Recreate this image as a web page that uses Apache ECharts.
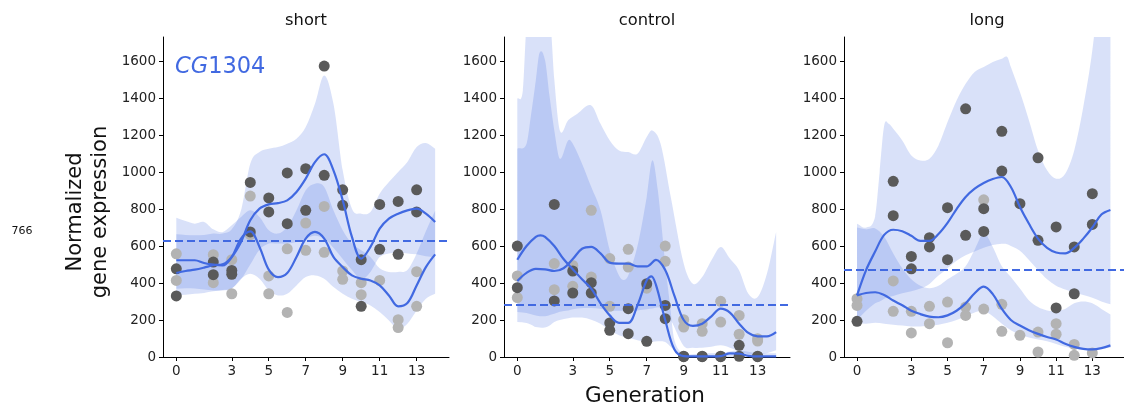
<!DOCTYPE html>
<html>
<head>
<meta charset="utf-8">
<script src="https://cdn.jsdelivr.net/npm/echarts@6/dist/echarts.min.js"></script>
<style>
  html, body { margin: 0; padding: 0; background: #ffffff; }
  #chart { width: 1124px; height: 409px; }
</style>
</head>
<body>
<div id="chart"></div>
<script>
// ---- Expression of CG1304 across generations, three selection regimes ----
const panelTitles = ['short', 'control', 'long'];
const geneName = 'CG1304';
const xTickValues = [0, 3, 5, 7, 9, 11, 13];
const yTickValues = [0, 200, 400, 600, 800, 1000, 1200, 1400, 1600];
// mean expression level of each regime (dashed reference)
const baselines = [631, 283, 474];

// replicate measurements: [generation, expression]
const shortDark = [[0,477],[0,330],[2,513],[2,445],[3,468],[3,447],[4,944],[4,676],[5,860],[5,784],[6,995],[6,721],[7,1018],[7,793],[8,1573],[8,982],[9,904],[9,820],[10,526],[10,274],[11,825],[11,582],[12,841],[12,555],[13,904],[13,784]];
const shortLight = [[0,558],[0,414],[2,553],[2,402],[3,526],[3,342],[4,870],[4,661],[5,438],[5,342],[6,585],[6,241],[7,724],[7,577],[8,814],[8,566],[9,465],[9,420],[10,402],[10,337],[11,414],[12,202],[12,159],[13,461],[13,274]];
const controlDark = [[0,600],[0,375],[2,825],[2,303],[3,465],[3,346],[4,402],[4,346],[5,184],[5,144],[6,261],[6,126],[7,396],[7,85],[8,279],[8,207],[9,2],[9,4],[10,2],[10,4],[11,2],[11,4],[12,63],[12,4],[13,2],[13,4]];
const controlLight = [[0,438],[0,321],[2,505],[2,364],[3,495],[3,382],[4,793],[4,432],[5,532],[5,274],[6,582],[6,486],[7,372],[8,600],[8,517],[9,202],[9,162],[10,180],[10,139],[11,301],[11,189],[12,225],[12,123],[13,99],[13,86]];
const longDark = [[0,193],[2,950],[2,764],[3,544],[3,477],[4,645],[4,595],[5,807],[5,526],[6,1342],[6,658],[7,802],[7,679],[8,1220],[8,1005],[9,829],[10,1077],[10,631],[11,703],[11,265],[12,595],[12,342],[13,883],[13,717]];
const longLight = [[0,315],[0,279],[2,411],[2,247],[3,247],[3,130],[4,274],[4,180],[5,297],[5,77],[6,270],[6,225],[7,850],[7,259],[8,285],[8,139],[9,117],[10,135],[10,27],[11,180],[11,123],[12,68],[12,9],[13,22]];

// fitted trends: [generation, expression]
const shortDarkFit = [[0,454],[0.5,465],[1,472],[1.5,483],[2,496],[2.5,501],[3,541],[3.5,622],[4,739],[4.5,802],[5,825],[5.5,832],[6,847],[6.5,892],[7,964],[7.5,1054],[8,1096],[8.5,1009],[9,847],[9.5,649],[10,532],[10.5,595],[11,694],[11.5,748],[12,775],[12.5,793],[13,802],[13.5,775],[14,730]];
const shortLightFit = [[0,523],[0.5,523],[1,523],[1.5,508],[2,499],[2.5,495],[3,541],[3.5,640],[4,679],[4.5,595],[5,472],[5.5,432],[6,454],[6.5,541],[7,640],[7.5,676],[8,640],[8.5,541],[9,486],[9.5,441],[10,423],[10.5,414],[11,387],[11.5,333],[12,274],[12.5,292],[13,387],[13.5,486],[14,555]];
const controlDarkFit = [[0,526],[0.5,600],[1,650],[1.25,658],[1.5,650],[2,600],[2.5,530],[3,475],[3.5,420],[4,370],[4.5,290],[5,225],[5.5,185],[6,185],[6.5,280],[7,415],[7.25,436],[7.5,390],[8,200],[8.5,40],[9,5],[10,3],[11,5],[11.5,20],[12,18],[12.5,6],[13,3],[14,3]];
const controlLightFit = [[0,411],[0.5,455],[1,476],[1.5,474],[2,465],[2.5,480],[3,530],[3.5,585],[4,595],[4.5,560],[5,510],[5.5,505],[6,505],[6.5,490],[7,490],[7.5,525],[8,470],[8.5,330],[9,200],[9.5,168],[10,180],[10.5,220],[11,261],[11.5,240],[12,180],[12.5,130],[13,112],[13.5,112],[14,135]];
const longDarkFit = [[0,333],[0.5,470],[1,570],[1.5,660],[2,688],[2.5,680],[3,655],[3.5,628],[4,628],[4.5,665],[5,725],[5.5,800],[6,865],[6.5,910],[7,941],[7.5,962],[8,973],[8.5,919],[9,811],[9.5,720],[10,640],[10.5,590],[11,565],[11.5,560],[12,590],[12.5,640],[13,700],[13.5,770],[14,795]];
const longLightFit = [[0,333],[0.5,346],[1,350],[1.5,335],[2,305],[2.5,280],[3,250],[3.5,232],[4,218],[4.5,215],[5,225],[5.5,250],[6,290],[6.5,345],[7,380],[7.5,340],[8,260],[8.5,200],[9,170],[9.5,145],[10,125],[10.5,108],[11,95],[11.5,72],[12,55],[12.5,44],[13,41],[13.5,48],[14,63]];

// credible bands: [generation, lower, upper]
const shortDarkBand = [[0,333,663],[0.5,336,660],[1,342,658],[1.5,346,660],[2,355,667],[2.5,362,667],[3,372,690],[3.5,420,793],[4,500,1045],[4.5,580,1108],[5,613,1126],[5.5,613,1135],[6,613,1153],[6.5,622,1180],[7,640,1243],[7.5,655,1369],[8,640,1522],[8.5,590,1369],[9,530,1009],[9.5,470,802],[10,420,775],[10.5,460,784],[11,540,883],[11.5,560,946],[12,565,1000],[12.5,560,1054],[13,555,1135],[13.5,545,1157],[14,540,1126]];
const shortLightBand = [[0,369,753],[0.5,372,735],[1,370,721],[1.5,365,730],[2,360,690],[2.5,360,675],[3,369,712],[3.5,423,757],[4,450,793],[4.5,423,757],[5,360,685],[5.5,333,667],[6,342,703],[6.5,387,793],[7,432,901],[7.5,441,937],[8,423,919],[8.5,378,793],[9,342,685],[9.5,315,613],[10,297,577],[10.5,279,541],[11,243,480],[11.5,198,460],[12,153,460],[12.5,180,470],[13,252,560],[13.5,315,680],[14,342,790]];
const controlDarkBand = [[0,189,1126],[0.5,184,1153],[0.75,175,1315],[1,162,1495],[1.2,160,1643],[1.5,159,1604],[1.75,170,1405],[2,189,1225],[2.3,200,1072],[2.75,210,1171],[3,213,1153],[3.5,213,1045],[4,202,919],[4.5,180,793],[5,144,577],[5.5,117,440],[5.75,110,416],[6,105,440],[6.5,90,600],[7,81,865],[7.3,83,1063],[7.6,85,901],[8,81,505],[8.25,60,288],[8.5,36,90],[9,0,20],[10,0,20],[11,0,22],[12,0,35],[13,0,20],[14,0,20]];
const controlLightBand = [[0,243,1396],[0.3,240,1441],[0.5,238,1800],[1,225,2100],[1.5,220,2000],[1.8,228,1800],[2,234,1500],[2.3,245,1225],[2.75,252,1280],[3.25,262,1315],[4,265,1360],[4.5,261,1261],[5,252,1171],[5.5,250,1117],[6,250,1108],[6.5,252,1099],[7,258,1189],[7.3,262,1225],[7.75,265,1153],[8.3,200,865],[9,60,505],[9.5,50,396],[10,50,432],[10.5,55,523],[11,63,595],[11.5,50,532],[12,30,468],[12.5,15,342],[13,10,324],[13.5,20,450],[14,36,676]];
const longDarkBand = [[0,200,721],[0.5,250,700],[1,290,760],[1.25,300,1000],[1.5,315,1252],[1.75,325,1261],[2,330,1234],[2.5,345,1171],[3,355,1090],[3.5,370,1063],[4,395,1072],[4.5,440,1144],[5,480,1270],[5.5,520,1387],[6,550,1477],[6.5,570,1541],[7,590,1568],[7.5,605,1595],[8,612,1613],[8.3,610,1622],[8.5,600,1568],[9,575,1432],[9.5,525,1279],[10,470,1117],[10.5,420,1009],[11,385,964],[11.5,365,991],[12,350,1117],[12.5,335,1351],[13,320,1658],[13.5,300,2100],[14,285,2400]];
const longLightBand = [[0,184,700],[0.5,180,690],[1,185,695],[1.5,180,650],[2,175,560],[2.5,170,480],[3,165,420],[3.5,165,385],[4,170,372],[4.5,175,385],[5,185,420],[5.5,200,450],[6,220,490],[6.5,240,580],[7,250,667],[7.5,220,595],[8,180,490],[8.5,145,432],[9,120,370],[9.5,105,306],[10,95,270],[10.5,85,252],[11,70,250],[11.5,55,260],[12,45,290],[12.5,40,300],[13,40,290],[13.5,45,260],[14,50,230]];

// ---- layout and style ----
const BLUE = '#4169e1';
const BAND_FILL = 'rgba(65,105,225,0.2)';
const DARK_DOT = '#5a5a5a';
const LIGHT_DOT = '#b3b3b3';
const FONT = 'DejaVu Sans';
const X_MIN = -0.72, X_MAX = 14.75, Y_MAX = 1730;
const GRID_TOP = 37, GRID_H = 320, GRID_W = 286;
const gridLefts = [163, 504, 844];

const panels = [
  { dark: shortDark, light: shortLight, darkFit: shortDarkFit, lightFit: shortLightFit, darkBand: shortDarkBand, lightBand: shortLightBand },
  { dark: controlDark, light: controlLight, darkFit: controlDarkFit, lightFit: controlLightFit, darkBand: controlDarkBand, lightBand: controlLightBand },
  { dark: longDark, light: longLight, darkFit: longDarkFit, lightFit: longLightFit, darkBand: longDarkBand, lightBand: longLightBand }
];

// Smooth pixel path through points (cubic Hermite, finite-difference tangents).
function hermitePath(pts, startCmd) {
  const n = pts.length;
  const slope = new Array(n);
  for (let k = 0; k < n; k++) {
    const a = pts[Math.max(0, k - 1)], b = pts[Math.min(n - 1, k + 1)];
    slope[k] = (b[1] - a[1]) / (b[0] - a[0]);
  }
  let d = startCmd + pts[0][0].toFixed(2) + ' ' + pts[0][1].toFixed(2);
  for (let k = 0; k < n - 1; k++) {
    const p = pts[k], q = pts[k + 1];
    const h = (q[0] - p[0]) / 3;
    d += ' C' + (p[0] + h).toFixed(2) + ' ' + (p[1] + slope[k] * h).toFixed(2) + ' ' +
         (q[0] - h).toFixed(2) + ' ' + (q[1] - slope[k + 1] * h).toFixed(2) + ' ' +
         q[0].toFixed(2) + ' ' + q[1].toFixed(2);
  }
  return d;
}

function bandSeries(i, band) {
  return {
    type: 'custom', coordinateSystem: 'cartesian2d', xAxisIndex: i, yAxisIndex: i,
    data: band, encode: { x: 0, y: [1, 2] }, clip: true, silent: true, z: 1,
    renderItem: function (params, api) {
      if (params.dataIndex !== 0) return null;
      const upper = band.map(b => api.coord([b[0], b[2]]));
      const lower = band.map(b => api.coord([b[0], b[1]])).reverse();
      // lower edge runs right-to-left: flip x for the tangent helper, then flip back
      const lowerFlipped = lower.map(p => [-p[0], p[1]]);
      let lowerPath = hermitePath(lowerFlipped, 'L');
      lowerPath = lowerPath.replace(/(-?\d+\.\d+) (-?\d+\.\d+)/g, (m, x, y) => (-parseFloat(x)).toFixed(2) + ' ' + y);
      const d = hermitePath(upper, 'M') + ' ' + lowerPath + ' Z';
      return { type: 'path', shape: { pathData: d }, style: { fill: BAND_FILL, stroke: null } };
    }
  };
}

const grids = [], xAxes = [], yAxes = [], series = [], graphics = [];
const axisLine = { show: true, onZero: false, lineStyle: { color: '#000', width: 1 } };
const tickStyle = { color: '#000', width: 1 };
const plainNumber = v => String(v);

panels.forEach((p, i) => {
  grids.push({ left: gridLefts[i], top: GRID_TOP, width: GRID_W, height: GRID_H, containLabel: false });
  xAxes.push({
    type: 'value', gridIndex: i, min: X_MIN, max: X_MAX,
    axisLine: axisLine,
    axisTick: { show: true, inside: false, length: 4, customValues: xTickValues, lineStyle: tickStyle },
    axisLabel: { customValues: xTickValues, formatter: plainNumber, margin: 7, fontSize: 13.5, color: '#222', fontFamily: FONT },
    splitLine: { show: false }
  });
  yAxes.push({
    type: 'value', gridIndex: i, min: 0, max: Y_MAX,
    axisLine: axisLine,
    axisTick: { show: true, inside: false, length: 4, customValues: yTickValues, lineStyle: tickStyle },
    axisLabel: { customValues: yTickValues, formatter: plainNumber, margin: 7, fontSize: 13.5, color: '#222', fontFamily: FONT },
    splitLine: { show: false }
  });

  // credible bands (translucent, overlap reads darker)
  series.push(bandSeries(i, p.darkBand));
  series.push(bandSeries(i, p.lightBand));

  // replicate points
  series.push({
    type: 'scatter', xAxisIndex: i, yAxisIndex: i, data: p.light, symbolSize: 11,
    itemStyle: { color: LIGHT_DOT, opacity: 1 }, silent: true, z: 2
  });
  series.push({
    type: 'scatter', xAxisIndex: i, yAxisIndex: i, data: p.dark, symbolSize: 11,
    itemStyle: { color: DARK_DOT, opacity: 1 }, silent: true, z: 2
  });

  // fitted trends and the regime mean
  series.push({
    type: 'line', xAxisIndex: i, yAxisIndex: i, data: p.lightFit, smooth: 0.35, symbol: 'none',
    lineStyle: { color: BLUE, width: 2.2 }, silent: true, z: 3
  });
  series.push({
    type: 'line', xAxisIndex: i, yAxisIndex: i, data: p.darkFit, smooth: 0.35, symbol: 'none',
    lineStyle: { color: BLUE, width: 2.2 }, silent: true, z: 3,
    markLine: {
      silent: true, symbol: 'none', label: { show: false },
      lineStyle: { color: BLUE, width: 1.8, type: [8, 4] },
      data: [{ yAxis: baselines[i] }]
    }
  });

  graphics.push({
    type: 'text', x: gridLefts[i] + GRID_W / 2, y: 21,
    style: { text: panelTitles[i], fill: '#111', font: '16.3px "DejaVu Sans"',
             align: 'center', verticalAlign: 'middle', textAlign: 'center', textVerticalAlign: 'middle' }
  });
});

graphics.push({
  type: 'text', x: 175, y: 67,
  style: {
    text: '{i|CG}{n|' + geneName.slice(2) + '}',
    fill: BLUE, verticalAlign: 'middle', textVerticalAlign: 'middle',
    rich: {
      i: { fontFamily: FONT, fontSize: 22.5, fontStyle: 'italic', fill: BLUE, color: BLUE },
      n: { fontFamily: FONT, fontSize: 22.5, fill: BLUE, color: BLUE }
    }
  }
});
graphics.push({
  type: 'text', x: 88, y: 212, rotation: Math.PI / 2,
  style: { text: 'Normalized\ngene expression', fill: '#111', font: '21px "DejaVu Sans"', lineHeight: 25,
           align: 'center', verticalAlign: 'middle', textAlign: 'center', textVerticalAlign: 'middle' }
});
graphics.push({
  type: 'text', x: 645, y: 396,
  style: { text: 'Generation', fill: '#111', font: '21.5px "DejaVu Sans"',
           align: 'center', verticalAlign: 'middle', textAlign: 'center', textVerticalAlign: 'middle' }
});
graphics.push({
  type: 'text', x: 22, y: 231,
  style: { text: '766', fill: '#111', font: '11px "DejaVu Sans"',
           align: 'center', verticalAlign: 'middle', textAlign: 'center', textVerticalAlign: 'middle' }
});

const chart = echarts.init(document.getElementById('chart'), null, { renderer: 'canvas' });
chart.setOption({
  animation: false,
  backgroundColor: '#ffffff',
  grid: grids,
  xAxis: xAxes,
  yAxis: yAxes,
  series: series,
  graphic: graphics
});
</script>
</body>
</html>
